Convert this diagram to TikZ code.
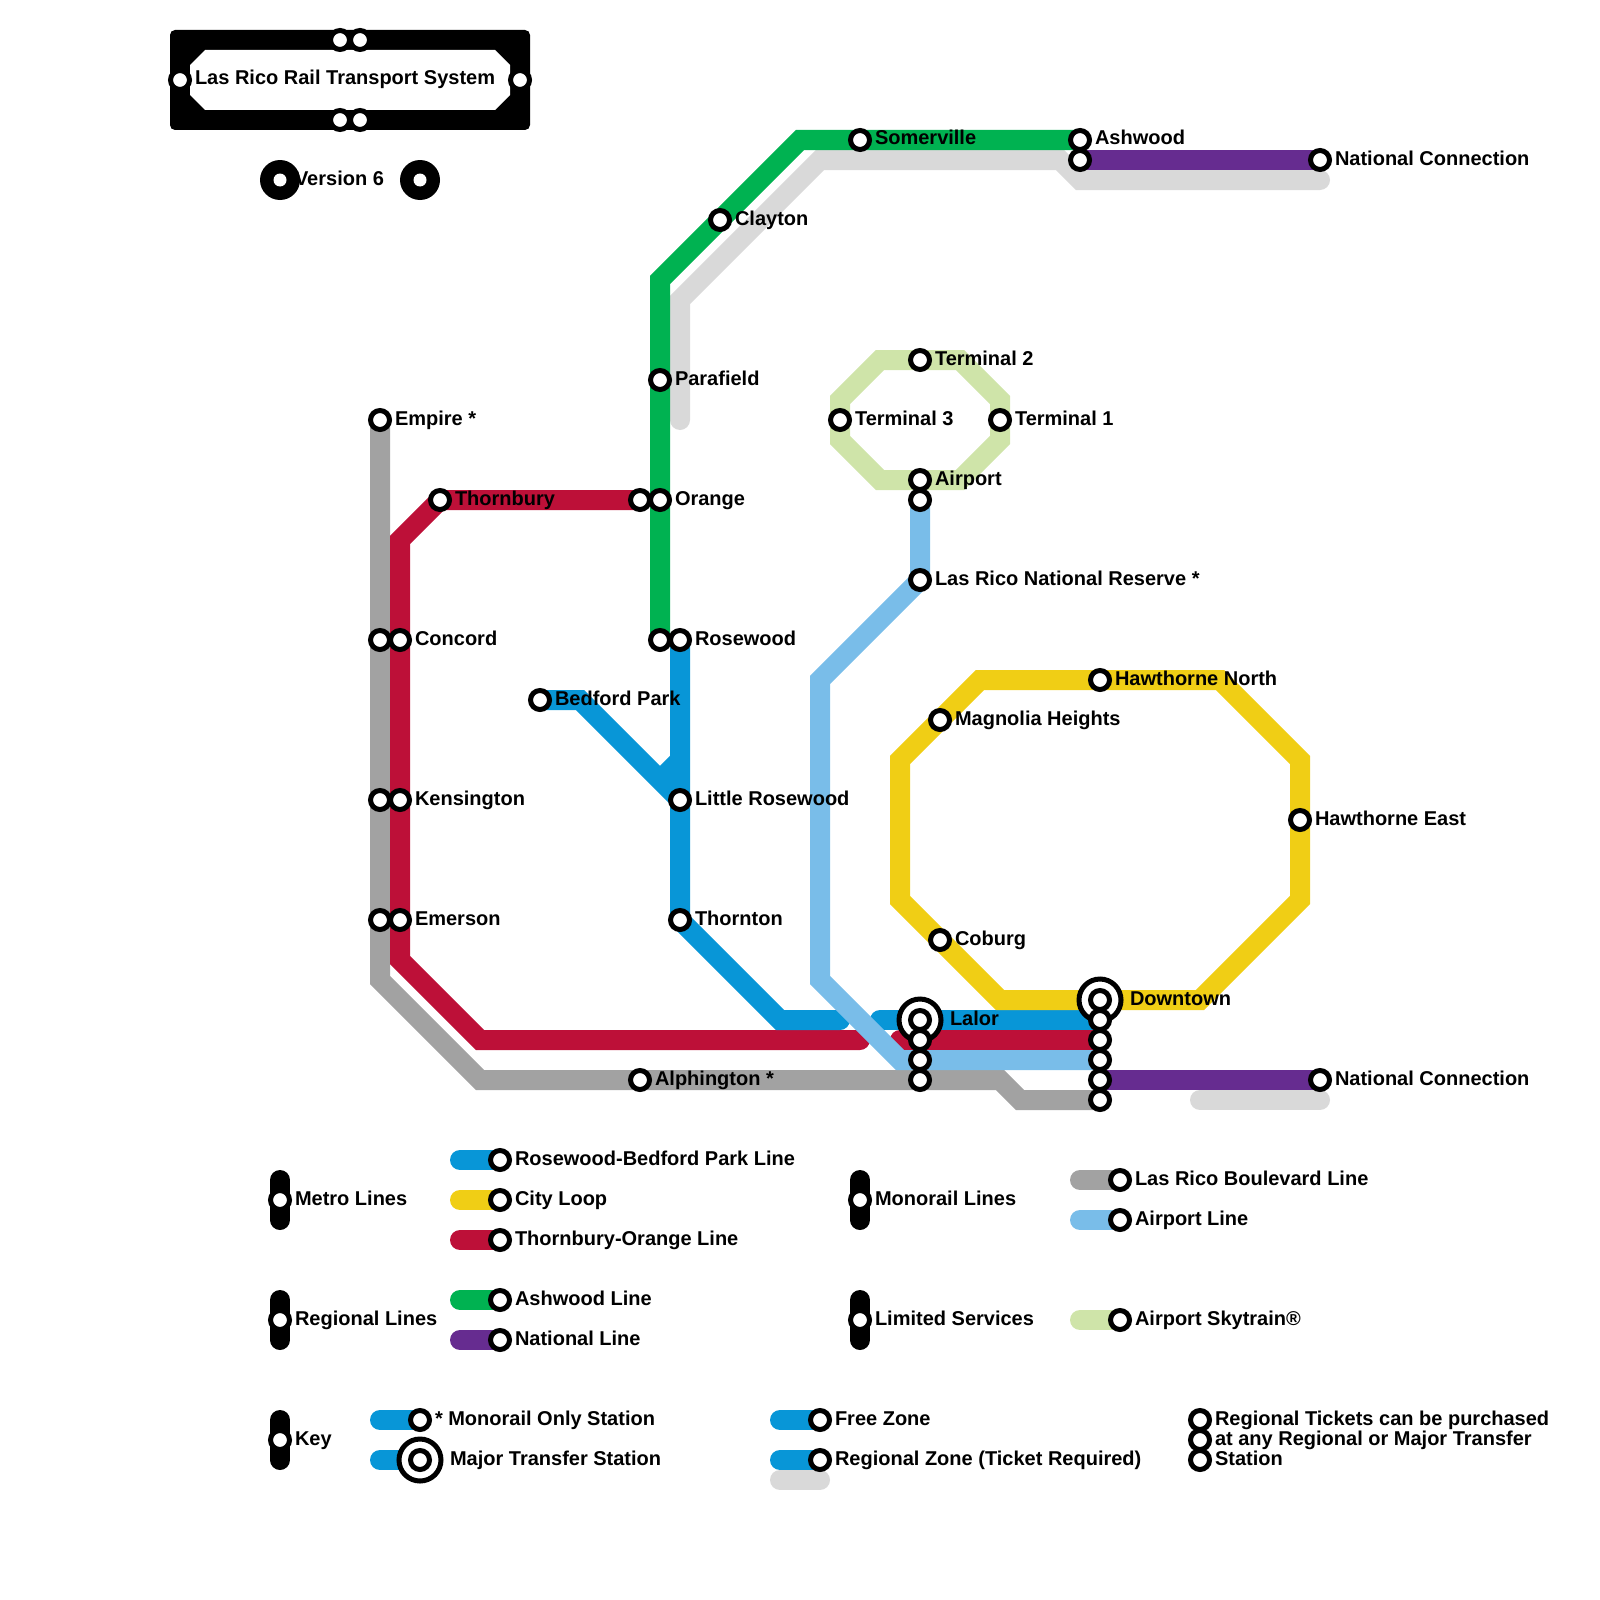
\documentclass[tikz,border=0pt]{standalone}
\usepackage{fontspec}
\setmainfont{Liberation Sans}[BoldFont={Liberation Sans Bold}]
\usetikzlibrary{backgrounds}
\definecolor{cblue}{HTML}{0896D7}
\definecolor{cyellow}{HTML}{F0CE15}
\definecolor{cred}{HTML}{BD1038}
\definecolor{cgreen}{HTML}{00B251}
\definecolor{cpurple}{HTML}{662C90}
\definecolor{cgray}{HTML}{A2A2A2}
\definecolor{clgray}{HTML}{D9D9D9}
\definecolor{csky}{HTML}{79BDE9}
\definecolor{cskytrain}{HTML}{CFE4A9}
\tikzset{
  metro/.style={line width=20pt,line cap=round,line join=miter},
  stn/.style={circle,draw=black,fill=white,line width=5pt,minimum size=19pt,inner sep=0pt,outer sep=0pt},
  bigring/.style={circle,draw=black,fill=white,line width=5pt,minimum size=42pt,inner sep=0pt,outer sep=0pt},
  thinstn/.style={circle,draw=none,fill=white,minimum size=13pt,inner sep=0pt,outer sep=0pt},
  blackdisc/.style={circle,fill=black,minimum size=40pt,inner sep=0pt,outer sep=0pt},
  lbl/.style={anchor=base west,inner sep=0pt,outer sep=0pt,yshift=-5pt,font=\fontsize{20}{24}\selectfont\bfseries,text=black}
}
\newcommand{\st}[5][15]{\node[stn] (#2) at (#3,#4) {};\node[lbl] (#2l) at (#3+#1,#4) {#5};}
\newcommand{\bst}[5][30]{\node[bigring] (#2r) at (#3,#4) {};\node[stn] (#2) at (#3,#4) {};\node[lbl] (#2l) at (#3+#1,#4) {#5};}
\begin{document}
\begin{tikzpicture}[x=1pt,y=-1pt]
\useasboundingbox (0,0) rectangle (1600,1600);
% header
\fill[black,rounded corners=5pt] (170,30) rectangle (530,130);
\fill[white] (205,50) -- (495,50) -- (510,65) -- (510,95) -- (495,110) -- (205,110) -- (190,95) -- (190,65) -- cycle;
\foreach \n/\x/\y in {ha/180/80,hb/520/80,hc/340/40,hd/360/40,he/340/120,hf/360/120}{
  \node[stn] (\n) at (\x,\y) {};
}
\node[lbl] (title) at (195,80) {Las Rico Rail Transport System};
\node[blackdisc] (va) at (280,180) {};
\node[blackdisc] (vb) at (420,180) {};
\node[thinstn] (vai) at (280,180) {};
\node[thinstn] (vbi) at (420,180) {};
\node[lbl] (vl) at (295,180) {Version 6};
% stations
\st{empire}{380}{420}{Empire *}
\st{gconcord}{380}{640}{}
\st{concord}{400}{640}{Concord}
\st{gkens}{380}{800}{}
\st{kens}{400}{800}{Kensington}
\st{gemer}{380}{920}{}
\st{emer}{400}{920}{Emerson}
\st{thorn}{440}{500}{Thornbury}
\st{rorange}{640}{500}{}
\st{orange}{660}{500}{Orange}
\st{para}{660}{380}{Parafield}
\st{grose}{660}{640}{}
\st{rose}{680}{640}{Rosewood}
\st{bedford}{540}{700}{Bedford Park}
\st{little}{680}{800}{Little Rosewood}
\st{thornton}{680}{920}{Thornton}
\st{alph}{640}{1080}{Alphington *}
\st{clayton}{720}{220}{Clayton}
\st{somer}{860}{140}{Somerville}
\st{ash}{1080}{140}{Ashwood}
\st{ashb}{1080}{160}{}
\st{natA}{1320}{160}{National Connection}
\st{term2}{920}{360}{Terminal 2}
\st{term3}{840}{420}{Terminal 3}
\st{term1}{1000}{420}{Terminal 1}
\st{airport}{920}{480}{Airport}
\st{airportb}{920}{500}{}
\st{reserve}{920}{580}{Las Rico National Reserve *}
\st{hnorth}{1100}{680}{Hawthorne North}
\st{magn}{940}{720}{Magnolia Heights}
\st{heast}{1300}{820}{Hawthorne East}
\st{coburg}{940}{940}{Coburg}
\bst{lalor}{920}{1020}{Lalor}
\st{lalorb}{920}{1040}{}
\st{lalorc}{920}{1060}{}
\st{lalord}{920}{1080}{}
\bst{down}{1100}{1000}{Downtown}
\st{downb}{1100}{1020}{}
\st{downc}{1100}{1040}{}
\st{downd}{1100}{1060}{}
\st{downe}{1100}{1080}{}
\st{downf}{1100}{1100}{}
\st{natB}{1320}{1080}{National Connection}
% legend stations
\st{kblue}{500}{1160}{Rosewood-Bedford Park Line}
\st{kyellow}{500}{1200}{City Loop}
\st{kred}{500}{1240}{Thornbury-Orange Line}
\st{kgreen}{500}{1300}{Ashwood Line}
\st{kpurple}{500}{1340}{National Line}
\st{kgray}{1120}{1180}{Las Rico Boulevard Line}
\st{ksky}{1120}{1220}{Airport Line}
\st{ktrain}{1120}{1320}{Airport Skytrain®}
\st{kmetro}{280}{1200}{Metro Lines}
\st{kregional}{280}{1320}{Regional Lines}
\st{kkey}{280}{1440}{Key}
\st{kmono}{860}{1200}{Monorail Lines}
\st{klimited}{860}{1320}{Limited Services}
\st{konly}{420}{1420}{* Monorail Only Station}
\bst{kmajor}{420}{1460}{Major Transfer Station}
\st{kfree}{820}{1420}{Free Zone}
\st{kzone}{820}{1460}{Regional Zone (Ticket Required)}
\st{ta}{1200}{1420}{Regional Tickets can be purchased}
\st{tb}{1200}{1440}{at any Regional or Major Transfer}
\st{tc}{1200}{1460}{Station}
\begin{scope}[on background layer]
% light gray
\draw[metro,clgray] (680,420) -- (680,300) -- (820,160) -- (1060,160) -- (1080,180) -- (1320,180);
\coordinate (gs) at (1200,1100);\coordinate (ge) at (1320,1100);
\draw[metro,clgray] (gs) -- (ge);
% green
\draw[metro,cgreen] (grose.center) -- (orange.center) -- (para.center) -- (660,280) -- (800,140) -- (somer.center) -- (ash.center);
% purple
\draw[metro,cpurple] (ashb.center) -- (natA.center);
\draw[metro,cpurple] (downe.center) -- (natB.center);
% gray
\draw[metro,cgray] (empire.center) -- (gconcord.center) -- (gkens.center) -- (gemer.center) -- (380,980) -- (480,1080) -- (alph.center) -- (lalord.center) -- (1000,1080) -- (1020,1100) -- (downf.center);
% red
\coordinate (re) at (860,1040);
\draw[metro,cred] (rorange.center) -- (thorn.center) -- (400,540) -- (concord.center) -- (kens.center) -- (emer.center) -- (400,960) -- (480,1040) -- (re);
\coordinate (rs) at (900,1040);
\draw[metro,cred] (rs) -- (lalorb.center) -- (downc.center);
% blue
\coordinate (be) at (840,1020);
\coordinate (bstub) at (660,780);
\draw[metro,cblue] (rose.center) -- (little.center) -- (thornton.center) -- (780,1020) -- (be);
\draw[metro,cblue,line cap=butt] (680,760) -- (bstub);
\draw[metro,cblue] (bedford.center) -- (580,700) -- (little.center);
\coordinate (bs) at (880,1020);
\draw[metro,cblue] (bs) -- (lalor.center) -- (downb.center);
% sky
\draw[metro,csky] (airportb.center) -- (reserve.center) -- (820,680) -- (820,980) -- (900,1060) -- (lalorc.center) -- (downd.center);
% yellow
\draw[metro,cyellow] (980,680) -- (hnorth.center) -- (1220,680) -- (1300,760) -- (heast.center) -- (1300,900) -- (1200,1000) -- (down.center) -- (1000,1000) -- (900,900) -- (900,760) -- cycle;
% skytrain
\draw[metro,cskytrain] (880,360) -- (term2.center) -- (960,360) -- (1000,400) -- (1000,440) -- (960,480) -- (airport.center) -- (880,480) -- (840,440) -- (840,400) -- cycle;
% legend lines
\foreach \nm/\cc/\x/\y in {kblue/cblue/460/1160,kyellow/cyellow/460/1200,kred/cred/460/1240,kgreen/cgreen/460/1300,kpurple/cpurple/460/1340,kgray/cgray/1080/1180,ksky/csky/1080/1220,ktrain/cskytrain/1080/1320,konly/cblue/380/1420,kmajor/cblue/380/1460,kfree/cblue/780/1420,kzone/cblue/780/1460}{
  \coordinate (\nm s) at (\x,\y);
  \draw[metro,\cc] (\nm s) -- (\nm.center);
}
\coordinate (zg) at (780,1480);\coordinate (zh) at (820,1480);
\draw[metro,clgray] (zg) -- (zh);
\foreach \nm/\x/\y in {kmetro/280/1200,kregional/280/1320,kkey/280/1440,kmono/860/1200,klimited/860/1320}{
  \coordinate (\nm t) at (\x,\y-20);
  \coordinate (\nm b) at (\x,\y+20);
  \draw[metro,black] (\nm t) -- (\nm b);
}
\end{scope}
\end{tikzpicture}
\end{document}
